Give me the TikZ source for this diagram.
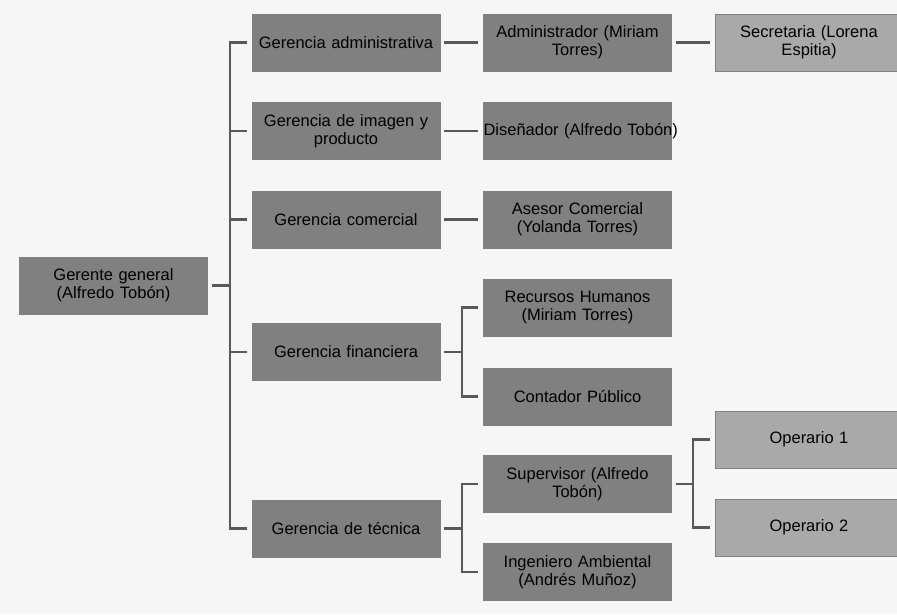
\documentclass[tikz,border=0pt]{standalone}
\usepackage{fontspec}
\setmainfont{Liberation Sans}
\usepackage{tikz}
\usetikzlibrary{positioning}
\usetikzlibrary{calc}
\usepackage{xcolor}
\definecolor{boxdark}{HTML}{808080}
\definecolor{boxlight}{HTML}{A9A9A9}
\definecolor{linkgray}{HTML}{595959}
\definecolor{paper}{HTML}{F6F6F6}

\begin{document}
\begin{tikzpicture}[
  font=\fontsize{16.5}{18}\selectfont,
  box/.style={draw=black!50, line width=0.5pt, fill=boxdark, align=center, text width=188pt, minimum width=188pt, minimum height=57pt, inner sep=0pt},
  boxl/.style={box, fill=boxlight},
  link/.style={draw=linkgray, line width=2.2pt, shorten <=4pt, shorten >=5pt}
]

% paper, fixes the picture's size
\fill[paper] (-346pt,42.5pt) rectangle (551pt,-571.5pt);
\useasboundingbox (-346pt,42.5pt) rectangle (551pt,-571.5pt);

% gerencias
\node[box] (gadm) {Gerencia administrativa};
\node[box, below=31pt of gadm] (gimg) {Gerencia de imagen y\\producto};
\node[box, below=31pt of gimg] (gcom) {Gerencia comercial};
\node[box, below=75pt of gcom] (gfin) {Gerencia financiera};
\node[box, below=119pt of gfin] (gtec) {Gerencia de técnica};

% gerente general
\coordinate (mid) at ($(gadm.west)!0.5!(gtec.west)$);
\node[box, left=44pt of mid] (gg) {Gerente general\\(Alfredo Tobón)};

% cargos
\node[box, right=43pt of gadm] (adm) {Administrador (Miriam\\Torres)};
\node[boxl, right=43pt of adm] (sec) {Secretaria (Lorena\\Espitia)};
\node[box, right=43pt of gimg] (dis) {\mbox{Diseñador (Alfredo Tobón)}};
\node[box, right=43pt of gcom] (ase) {Asesor Comercial\\(Yolanda Torres)};
\node[box, right=43pt of gfin, yshift=44.5pt] (rh) {Recursos Humanos\\(Miriam Torres)};
\node[box, right=43pt of gfin, yshift=-44.5pt] (cont) {Contador Público};
\node[box, right=43pt of gtec, yshift=44.5pt] (sup) {Supervisor (Alfredo\\Tobón)};
\node[box, right=43pt of gtec, yshift=-43.5pt] (ing) {Ingeniero Ambiental\\(Andrés Muñoz)};
\node[boxl, right=43pt of sup, yshift=44.5pt] (op1) {Operario 1};
\node[boxl, right=43pt of sup, yshift=-43.5pt] (op2) {Operario 2};

% gerente general -> gerencias
\draw[link] (gg.east) -- ++(22pt,0) |- (gadm.west);
\draw[link] (gg.east) -- ++(22pt,0) |- (gimg.west);
\draw[link] (gg.east) -- ++(22pt,0) |- (gcom.west);
\draw[link] (gg.east) -- ++(22pt,0) |- (gfin.west);
\draw[link] (gg.east) -- ++(22pt,0) |- (gtec.west);

% gerencias -> cargos
\draw[link] (gadm) -- (adm);
\draw[link] (adm) -- (sec);
\draw[link] (gimg) -- (dis);
\draw[link] (gcom) -- (ase);
\draw[link] (gfin.east) -- ++(21.5pt,0) |- (rh.west);
\draw[link] (gfin.east) -- ++(21.5pt,0) |- (cont.west);
\draw[link] (gtec.east) -- ++(21.5pt,0) |- (sup.west);
\draw[link] (gtec.east) -- ++(21.5pt,0) |- (ing.west);
\draw[link] (sup.east) -- ++(21.5pt,0) |- (op1.west);
\draw[link] (sup.east) -- ++(21.5pt,0) |- (op2.west);

\end{tikzpicture}
\end{document}
